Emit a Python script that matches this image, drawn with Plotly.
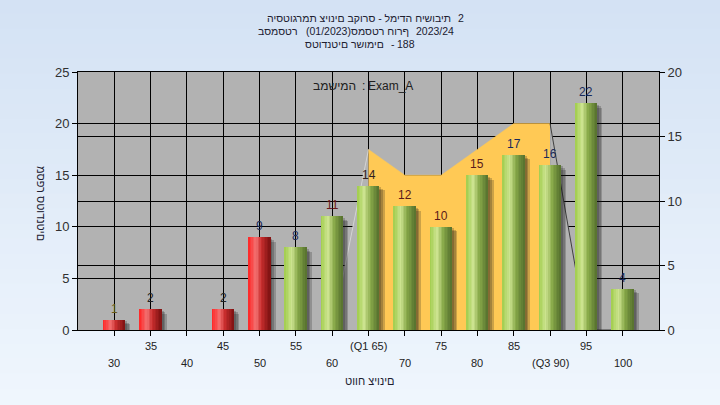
import plotly.graph_objects as go

# ---------------- data ----------------
categories = [30, 35, 40, 45, 50, 55, 60, 65, 70, 75, 80, 85, 90, 95, 100]
students = [1, 2, 0, 2, 9, 8, 11, 14, 12, 10, 15, 17, 16, 22, 4]
tick_labels = ["30", "35", "40", "45", "50", "55", "60", "(Q1 65)", "70", "75",
               "80", "85", "(Q3 90)", "95", "100"]
iqr_x = [65, 70, 75, 80, 85, 90]
iqr_y = [14, 12, 12, 14, 16, 16]
lead_x = [60, 65]
lead_y = [0, 14]
tail_x = [90, 95, 100]
tail_y = [16, 0, 0]
pass_mark = 55

# title pieces, each with (text, is_hebrew)
title_line1 = [("היסטוגרמת ציונים בקורס - למידה חישובית", True), ("2", False)]
title_line2 = [("בסמסטר", True), ("(01/2023)", False), ("סמסטר חורף", True), ("2023/24", False)]
title_line3 = [("סטודנטים רשומים", True), ("-", False), ("188", False)]
task_label = [("במשימה", True), (":", False), ("Exam_A", False)]
x_title = "טווח ציונים"
y_title = "מספר סטודנטים"

# ---------------- styles ----------------
FONT = "Liberation Sans, Arial, DejaVu Sans, sans-serif"

# anchor px of each piece: Hebrew pieces end (right) there, others start (left) there
line1_ax = [453, 456]
line2_ax = [300, 304, 411, 414]
line3_ax = [386, 389, 395]
task_ax = [358, 360, 366]
title_cy = [18, 31, 43.5]


def drawn(s, hebrew):
    # the reference paints Hebrew glyphs left-to-right in stored order
    return s[::-1] if hebrew else s


label_colors = ["#6a5a18", "#202020", "#202020", "#202020", "#1a2a5a", "#1a2a5a",
                "#6a1a1a", "#302020", "#5a1a1a", "#5a1a1a", "#5a1a1a", "#1a2a5a",
                "#1a2a5a", "#1a2a5a", "#1a2a5a"]

red_stops = [(0.0, (255, 35, 35)), (0.35, (242, 112, 112)), (0.6, (200, 45, 45)), (1.0, (125, 18, 18))]
green_stops = [(0.0, (160, 205, 75)), (0.33, (205, 228, 145)), (0.62, (135, 168, 72)), (1.0, (85, 112, 45))]


def interp(stops, t):
    for (t0, c0), (t1, c1) in zip(stops[:-1], stops[1:]):
        if t <= t1:
            f = (t - t0) / (t1 - t0) if t1 > t0 else 0
            return "rgb(%d,%d,%d)" % tuple(round(a + (b - a) * f) for a, b in zip(c0, c1))
    return "rgb(%d,%d,%d)" % stops[-1][1]


PL, PT, PW, PH = 78, 72, 581, 258  # plot area in px


def px_x(x):
    return (x - PL) / PW


def px_y(y):
    return (PT + PH - y) / PH


fig = go.Figure()

fig.add_trace(go.Scatter(x=lead_x, y=lead_y, mode="lines", fill="tozeroy",
                         fillcolor="#B3B3B3", line=dict(color="#D4D4D4", width=1),
                         yaxis="y", showlegend=False, hoverinfo="skip"))
fig.add_trace(go.Scatter(x=iqr_x, y=iqr_y, mode="lines", fill="tozeroy",
                         fillcolor="#FFC955", line=dict(color="#FFC955", width=0.5),
                         yaxis="y", showlegend=False, hoverinfo="skip"))
fig.add_trace(go.Scatter(x=tail_x, y=tail_y, mode="lines", fill="tozeroy",
                         fillcolor="#B3B3B3", line=dict(color="#404040", width=1),
                         yaxis="y", showlegend=False, hoverinfo="skip"))

W = 3.0
unit_per_px = 80 / 581.0
for k in range(3):
    dx = (2 + 1.6 * k) * unit_per_px
    drop = 0.15 + 0.15 * k
    fig.add_trace(go.Bar(x=categories, y=[max(v - drop, 0) if v else 0 for v in students],
                         width=W, offset=-W / 2 + dx,
                         marker=dict(color="rgba(25,25,25,0.22)", line=dict(width=0)),
                         yaxis="y2", showlegend=False, hoverinfo="skip"))

N = 14
for i in range(N):
    t = (i + 0.5) / N
    colors = [interp(red_stops, t) if c < pass_mark else interp(green_stops, t) for c in categories]
    fig.add_trace(go.Bar(x=categories, y=students, width=W / N + 0.01,
                         offset=-W / 2 + i * W / N,
                         marker=dict(color=colors, line=dict(width=0)),
                         yaxis="y2", showlegend=False, hoverinfo="skip"))

# ---------------- background ----------------
shapes = []
n_strips = 27
y_top = 1 + PT / PH
y_bot = -(405 - PT - PH) / PH
c_top = (212, 226, 244)
c_bot = (239, 246, 253)
for i in range(n_strips):
    f = i / (n_strips - 1)
    col = "rgb(%d,%d,%d)" % tuple(round(a + (b - a) * f) for a, b in zip(c_top, c_bot))
    y1 = y_top - (y_top - y_bot) * i / n_strips + 0.005
    y0 = y_top - (y_top - y_bot) * (i + 1) / n_strips - 0.005
    shapes.append(dict(type="rect", xref="paper", yref="paper", x0=-0.2, x1=1.2,
                       y0=y0, y1=y1, fillcolor=col, line=dict(width=0), layer="below"))
shapes.append(dict(type="rect", xref="paper", yref="paper", x0=0, x1=1, y0=0, y1=1,
                   fillcolor="#B2B2B2", line=dict(width=0), layer="below"))

# ---------------- annotations ----------------
ann = []
for c, v, col in zip(categories, students, label_colors):
    if v > 0:
        ann.append(dict(text=str(v), xref="x", yref="y2", x=c, y=v, yanchor="bottom",
                        yshift=2, showarrow=False,
                        font=dict(family=FONT, size=12, color=col)))


def add_pieces(pieces, axs, cy, size, color):
    for (txt, heb), ax in zip(pieces, axs):
        ann.append(dict(text=drawn(txt, heb), xref="paper", yref="paper",
                        x=px_x(ax), y=px_y(cy), xanchor="right" if heb else "left",
                        yanchor="middle", showarrow=False,
                        font=dict(family=FONT, size=size, color=color)))


add_pieces(title_line1, line1_ax, title_cy[0], 10.5, "#202030")
add_pieces(title_line2, line2_ax, title_cy[1], 10.5, "#202030")
add_pieces(title_line3, line3_ax, title_cy[2], 10.5, "#202030")
add_pieces(task_label, task_ax, 86, 12, "#202020")

for idx, (c, lab) in enumerate(zip(categories, tick_labels)):
    ann.append(dict(text=lab, xref="x", yref="paper", x=c, y=0, yanchor="middle",
                    yshift=-33 if idx % 2 == 0 else -16, showarrow=False,
                    font=dict(family=FONT, size=11, color="#222222")))
ann.append(dict(text=drawn(x_title, True), xref="paper", yref="paper", x=px_x(370), y=px_y(381),
                yanchor="middle", showarrow=False,
                font=dict(family=FONT, size=11, color="#202030")))
ann.append(dict(text=drawn(y_title, True), xref="paper", yref="paper", x=px_x(33), y=px_y(203),
                textangle=90, showarrow=False,
                font=dict(family=FONT, size=11, color="#202030")))

fig.update_layout(
    width=720, height=405,
    margin=dict(l=PL, r=720 - PL - PW, t=PT, b=405 - PT - PH),
    paper_bgcolor="#E2ECF8",
    plot_bgcolor="#B2B2B2",
    barmode="overlay",
    bargap=0,
    shapes=shapes,
    annotations=ann,
    showlegend=False,
    xaxis=dict(range=[25, 105], tickvals=categories, ticktext=[""] * len(categories),
               ticks="outside", ticklen=5, tickcolor="black", showgrid=True,
               gridcolor="black", gridwidth=1, showline=True, linecolor="black",
               linewidth=1, mirror=True, zeroline=False),
    yaxis=dict(range=[0, 20], dtick=5, side="right", ticks="outside", ticklen=5,
               tickcolor="black", showgrid=True, gridcolor="black", gridwidth=1,
               showline=True, linecolor="black", zeroline=False,
               tickfont=dict(family=FONT, size=13, color="#303030")),
    yaxis2=dict(range=[0, 25], dtick=5, side="left", overlaying="y", ticks="outside",
                ticklen=5, tickcolor="black", showgrid=True, gridcolor="black",
                gridwidth=1, showline=True, linecolor="black", zeroline=False,
                tickfont=dict(family=FONT, size=13, color="#303030")),
)

fig.write_html("out.html", config={"displayModeBar": False},
               post_script="document.body.style.margin='0';document.body.style.background='#E2ECF8';")
